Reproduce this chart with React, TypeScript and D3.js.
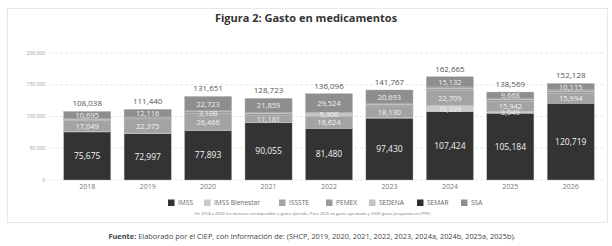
import React, { useEffect, useRef } from "react";
import * as d3 from "d3";

const years = ["2018", "2019", "2020", "2021", "2022", "2023", "2024", "2025", "2026"];
const seriesNames = ["IMSS", "IMSS Bienestar", "ISSSTE", "PEMEX", "SEDENA", "SEMAR", "SSA"];
const seriesColors = ["#333333", "#cacaca", "#a3a3a3", "#9a9a9a", "#c4c4c4", "#2e2e2e", "#8e8e8e"];

const imss = [75675, 72997, 77893, 90055, 81480, 97430, 107424, 105184, 120719];
const imssBienestar = [1200, 900, 300, 1000, 200, 1100, 10339, 3049, 0];
const issste = [17049, 22375, 26466, 11181, 18624, 18130, 22709, 15942, 15994];
const pemex = [1650, 1450, 3108, 2300, 600, 2400, 2900, 2200, 2400];
const sedena = [1100, 1000, 800, 1700, 5306, 1400, 2600, 1800, 2100];
const semar = [669, 602, 361, 628, 362, 614, 1561, 726, 800];
const ssa = [10695, 12116, 22723, 21859, 29524, 20693, 15132, 9668, 10115];
const totals = [108038, 111440, 131651, 128723, 136096, 141767, 162665, 138569, 152128];

const yTicks = [0, 50000, 100000, 150000, 200000];

const fmt = d3.format(",");

export default function App() {
  const ref = useRef<SVGSVGElement>(null);

  useEffect(() => {
    const svg = d3.select(ref.current);
    svg.selectAll("*").remove();
    const font = "'Open Sans', 'DejaVu Sans', sans-serif";

    const values = [imss, imssBienestar, issste, pemex, sedena, semar, ssa];
    const rows = years.map((yr, i) => {
      const r: any = { year: yr };
      seriesNames.forEach((s, k) => (r[s] = values[k][i]));
      return r;
    });

    const x = d3.scaleBand().domain(years).range([57, 601]).paddingInner(0.22).paddingOuter(0.11);
    const y = d3.scaleLinear().domain([0, 200000]).range([180, 53]);

    // frame
    svg.append("rect")
      .attr("x", 7.5).attr("y", 8.5).attr("width", 600).attr("height", 214)
      .attr("fill", "none").attr("stroke", "#e2e2e2").attr("stroke-width", 0.8);

    svg.append("text")
      .attr("x", 306).attr("y", 22)
      .attr("text-anchor", "middle")
      .style("font-family", font).style("font-weight", "bold").style("font-size", "11px")
      .attr("fill", "#333")
      .text("Figura 2: Gasto en medicamentos");

    // grid + y labels
    const grid = svg.append("g");
    yTicks.forEach((t) => {
      grid.append("line")
        .attr("x1", 50).attr("x2", 604).attr("y1", y(t)).attr("y2", y(t))
        .attr("stroke", "#dcdcdc").attr("stroke-width", 0.7).attr("stroke-dasharray", "3,2");
      grid.append("text")
        .attr("x", 45).attr("y", y(t) + 1.7)
        .attr("text-anchor", "end")
        .style("font-family", font).style("font-size", "5px")
        .attr("fill", "#999")
        .text(fmt(t));
    });

    const stack = d3.stack().keys(seriesNames)(rows);

    const layers = svg.append("g").selectAll("g")
      .data(stack)
      .enter()
      .append("g")
      .attr("fill", (d, i) => seriesColors[i]);

    layers.selectAll("rect")
      .data((d) => d)
      .enter()
      .append("rect")
      .attr("x", (d: any) => x(d.data.year))
      .attr("y", (d) => y(d[1]))
      .attr("height", (d) => y(d[0]) - y(d[1]))
      .attr("width", x.bandwidth())
      .attr("stroke", "#bdbdbd")
      .attr("stroke-width", 0.4);

    // segment labels
    stack.forEach((layer, k) => {
      layer.forEach((d: any) => {
        const v = d[1] - d[0];
        if (v < 3000) return;
        svg.append("text")
          .attr("x", x(d.data.year)! + x.bandwidth() / 2)
          .attr("y", (y(d[0]) + y(d[1])) / 2 + 3)
          .attr("text-anchor", "middle")
          .style("font-family", font)
          .style("font-size", k === 0 ? "8.5px" : "7.5px")
          .attr("fill", "#f2f2f2")
          .text(fmt(v));
      });
    });

    // totals
    svg.append("g").selectAll("text")
      .data(totals)
      .enter()
      .append("text")
      .attr("x", (d, i) => x(years[i])! + x.bandwidth() / 2)
      .attr("y", (d) => y(d) - 5)
      .attr("text-anchor", "middle")
      .style("font-family", font).style("font-size", "8px")
      .attr("fill", "#555")
      .text((d) => fmt(d));

    // x labels
    svg.append("g").selectAll("text")
      .data(years)
      .enter()
      .append("text")
      .attr("x", (d) => x(d)! + x.bandwidth() / 2)
      .attr("y", 189)
      .attr("text-anchor", "middle")
      .style("font-family", font).style("font-size", "7px")
      .attr("fill", "#777")
      .text((d) => d);

    // legend
    const legendX = [168, 204, 279, 326, 369, 417, 461];
    const legend = svg.append("g");
    seriesNames.forEach((s, i) => {
      legend.append("rect")
        .attr("x", legendX[i]).attr("y", 199.5).attr("width", 6.5).attr("height", 6.5)
        .attr("fill", seriesColors[i]);
      legend.append("text")
        .attr("x", legendX[i] + 10).attr("y", 205.3)
        .style("font-family", font).style("font-size", "6.6px")
        .attr("fill", "#666")
        .text(s);
    });

    svg.append("text")
      .attr("x", 313).attr("y", 215)
      .attr("text-anchor", "middle")
      .style("font-family", font).style("font-size", "4.2px")
      .attr("fill", "#777")
      .text("De 2018 a 2024 los montos corresponden a gasto ejercido. Para 2025 es gasto aprobado y 2026 gasto propuesto en PPEF.");

    const src = svg.append("text")
      .attr("x", 312).attr("y", 239)
      .attr("text-anchor", "middle")
      .style("font-family", font).style("font-size", "7.4px")
      .attr("fill", "#444");
    src.append("tspan").style("font-weight", "bold").text("Fuente: ");
    src.append("tspan").text(" Elaborado por el CIEP, con información de: (SHCP, 2019, 2020, 2021, 2022, 2023, 2024a, 2024b, 2025a, 2025b).");
  }, []);

  return (
    <svg
      ref={ref}
      width={612}
      height={246}
      style={{ position: "absolute", left: 0, top: 0, background: "#fff" }}
    />
  );
}
